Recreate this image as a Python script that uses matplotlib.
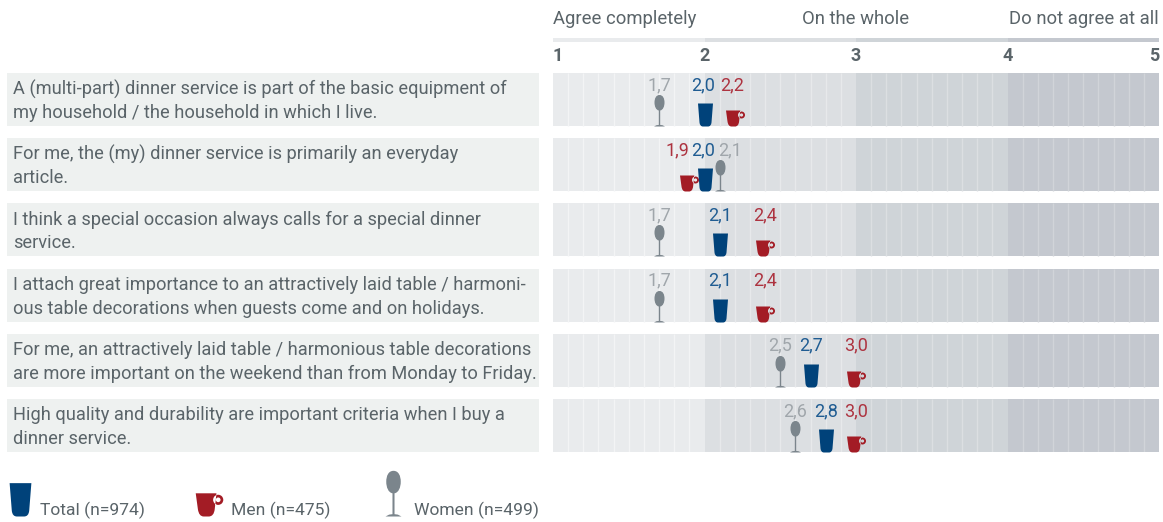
import numpy as np
import matplotlib
matplotlib.use('Agg')
import matplotlib.pyplot as plt
from matplotlib.path import Path

plt.rcParams['font.family'] = ['Roboto', 'DejaVu Sans']

# Data
questions = [
    ["A (multi-part) dinner service is part of the basic equipment of", "my household / the household in which I live."],
    ["For me, the (my) dinner service is primarily an everyday", "article."],
    ["I think a special occasion always calls for a special dinner", "service."],
    ["I attach great importance to an attractively laid table / harmoni-", "ous table decorations when guests come and on holidays."],
    ["For me, an attractively laid table / harmonious table decorations", "are more important on the weekend than from Monday to Friday."],
    ["High quality and durability are important criteria when I buy a", "dinner service."],
]
total = [2.0, 2.0, 2.1, 2.1, 2.7, 2.8]
men = [2.2, 1.9, 2.4, 2.4, 3.0, 3.0]
women = [1.7, 2.1, 1.7, 1.7, 2.5, 2.6]
scale_ticks = [1, 2, 3, 4, 5]
scale_heads = ["Agree completely", "On the whole", "Do not agree at all"]
legend_labels = ["Total (n=974)", "Men (n=475)", "Women (n=499)"]

# Colours
TEXT = '#5a6469'
BLUE = '#00427a'
RED = '#a31c25'
GREY = '#7b858c'
BLUE_T = '#1f5c92'
RED_T = '#ad3340'
GREY_T = '#a0a6ab'
band_cols = ['#e9ebed', '#dcdfe2', '#cfd4d8', '#c4c8cf']
sep_cols = ['#f3f4f5', '#e7e9eb', '#dcdfe2', '#d1d4d9']

W, H = 1163, 522
PERIOD = 65.2
ROW_H = 53
FS = 13.15


# Marker shapes, in pixels, anchored at bottom centre
def cup_path():
    v = [(-7.5, 23), (7.5, 23), (6, 4), (5.6, 0), (2.5, 0), (-2.5, 0), (-5.6, 0), (-6, 4), (-7.5, 23)]
    c = [Path.MOVETO, Path.LINETO, Path.LINETO, Path.CURVE3, Path.CURVE3, Path.LINETO, Path.CURVE3, Path.CURVE3, Path.CLOSEPOLY]
    return Path(v, c)


def mug_path():
    body = Path([(-9.5, 16), (4.8, 16), (3.6, 5), (3.0, 0), (-0.5, 0), (-4, 0), (-7.3, 0), (-8, 5), (-9.5, 16)],
                [Path.MOVETO, Path.LINETO, Path.LINETO, Path.CURVE3, Path.CURVE3, Path.LINETO, Path.CURVE3, Path.CURVE3, Path.CLOSEPOLY])
    outer = Path.circle((6.0, 11.5), 3.5)
    inner = Path.circle((6.0, 11.5), 1.6)
    inner = Path(inner.vertices[::-1], inner.codes)
    return Path.make_compound_path(body, outer, inner)


def glass_path():
    v = [(-0.7, 0), (-5.5, 0), (-3, 1.3), (-0.7, 1.6), (-0.7, 16),
         (-3.5, 16.5), (-5, 20), (-5, 24), (-5, 28), (-3.5, 31.5), (0, 31.5),
         (3.5, 31.5), (5, 28), (5, 24), (5, 20), (3.5, 16.5), (0.7, 16),
         (0.7, 1.6), (3, 1.3), (5.5, 0), (-0.7, 0)]
    c = [Path.MOVETO, Path.LINETO, Path.LINETO, Path.LINETO, Path.LINETO,
         Path.CURVE4, Path.CURVE4, Path.CURVE4, Path.CURVE4, Path.CURVE4, Path.CURVE4,
         Path.CURVE4, Path.CURVE4, Path.CURVE4, Path.CURVE4, Path.CURVE4, Path.CURVE4,
         Path.LINETO, Path.LINETO, Path.LINETO, Path.CLOSEPOLY]
    return Path(v, c)


def marker_size(path, factor=1.0):
    # matplotlib rescales custom markers by their largest coordinate
    return 2 * np.max(np.abs(path.vertices)) * factor * 0.72


cup, mug, glass = cup_path(), mug_path(), glass_path()

fig = plt.figure(figsize=(W / 100, H / 100), dpi=100)

# Overlay in pixel coordinates for the question boxes and the legend
bg = fig.add_axes([0, 0, 1, 1])
bg.set_xlim(0, W)
bg.set_ylim(H, 0)
bg.axis('off')

# Main chart, x is the scale value, y the question row
ax = fig.add_axes([553 / W, 1 - 452 / H, (1159 - 553) / W, 379 / H])
ax.set_xlim(1, 5)
ax.set_ylim(379 / PERIOD, 0)
ax.patch.set_visible(False)
for s in ax.spines.values():
    s.set_visible(False)

row_h = ROW_H / PERIOD
for r, q in enumerate(questions):
    top = 73 + r * PERIOD
    bg.add_patch(plt.Rectangle((7, top), 532, ROW_H, color='#eef1f0', lw=0))
    bg.text(13, top + 21.5, q[0], fontsize=FS, color=TEXT, va='baseline')
    bg.text(13, top + 45, q[1], fontsize=FS, color=TEXT, va='baseline')
    for b in range(4):
        ax.barh(r, 1, left=b + 1, height=row_h, align='edge', color=band_cols[b], lw=0)
        seps = np.arange(1, 10) / 10 + b + 1
        ax.vlines(seps, r, r + row_h, color=sep_cols[b], lw=1.0)

# Strip above the scale numbers
strip_y = -(73 - 38) / PERIOD
for b in range(4):
    ax.barh(strip_y, 1, left=b + 1, height=4 / PERIOD, align='edge', color=band_cols[b], lw=0, clip_on=False)

# Scale numbers
ax.xaxis.tick_top()
ax.set_xticks(scale_ticks)
ax.set_xticklabels(scale_ticks, fontsize=13, fontweight='bold', color=TEXT)
ax.tick_params(axis='x', length=0, pad=6)
ax.set_yticks([])
ticklabs = ax.get_xticklabels()
ticklabs[0].set_ha('left')
ticklabs[-1].set_ha('right')

# Headings
head_y = -(73 - 19) / PERIOD
ax.text(1, head_y, scale_heads[0], fontsize=13.3, color=TEXT, ha='left', va='center', clip_on=False)
ax.text(3, head_y, scale_heads[1], fontsize=13.3, color=TEXT, ha='center', va='center', clip_on=False)
ax.text(5, head_y, scale_heads[2], fontsize=13.3, color=TEXT, ha='right', va='center', clip_on=False)

# Markers
rows = np.arange(len(questions))
base = rows + row_h
ax.plot(men, base, ls='none', marker=mug, ms=marker_size(mug), mfc=RED, mew=0, zorder=3)
ax.plot(total, base, ls='none', marker=cup, ms=marker_size(cup), mfc=BLUE, mew=0, zorder=4)
ax.plot(women, base, ls='none', marker=glass, ms=marker_size(glass), mfc=GREY, mew=0, zorder=5)

# Value labels, some pushed sideways where they would collide
men_shift = {0: -0.02, 1: -0.08}
total_shift = {0: -0.012, 1: -0.008}
women_shift = {1: 0.066}
label_y = rows + 12 / PERIOD
for r in rows:
    ax.text(men[r] + men_shift.get(r, 0), label_y[r], f"{men[r]:.1f}".replace('.', ','),
            color=RED_T, fontsize=13, ha='center', va='center', zorder=6)
    ax.text(total[r] + total_shift.get(r, 0), label_y[r], f"{total[r]:.1f}".replace('.', ','),
            color=BLUE_T, fontsize=13, ha='center', va='center', zorder=6)
    ax.text(women[r] + women_shift.get(r, 0), label_y[r], f"{women[r]:.1f}".replace('.', ','),
            color=GREY_T, fontsize=13, ha='center', va='center', zorder=6)

# Legend
bg.plot([19.5], [516], marker=cup, ms=marker_size(cup, 1.45), mfc=BLUE, mew=0)
bg.plot([208.5], [516], marker=mug, ms=marker_size(mug, 1.45), mfc=RED, mew=0)
bg.plot([392.5], [516], marker=glass, ms=marker_size(glass, 1.45), mfc=GREY, mew=0)
bg.text(40, 515, legend_labels[0], fontsize=12.6, color=TEXT, va='baseline')
bg.text(231, 515, legend_labels[1], fontsize=12.6, color=TEXT, va='baseline')
bg.text(414, 515, legend_labels[2], fontsize=12.6, color=TEXT, va='baseline')

fig.savefig('out.png', dpi=100)
